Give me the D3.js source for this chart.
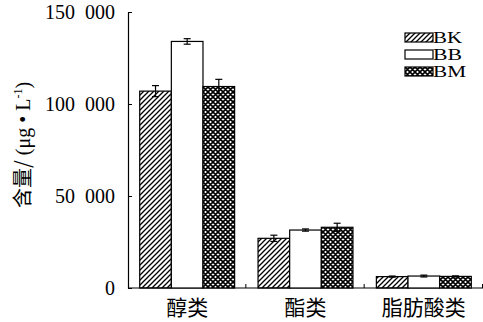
<!DOCTYPE html>
<html>
<head>
<meta charset="utf-8">
<script src="https://cdn.jsdelivr.net/npm/d3@7"></script>
<style>
  body { margin: 0; background: #fff; }
  svg { display: block; }
  .num { font-family: "Liberation Serif", "Times New Roman", serif; }
  .cjk { font-family: "Noto Sans CJK SC", sans-serif; }
</style>
</head>
<body>
<div id="chart"></div>
<script>
// data
var categories = ["醇类", "酯类", "脂肪酸类"];
var seriesNames = ["BK", "BB", "BM"];
var bkValues = [107000, 27000, 6200];
var bbValues = [134000, 31500, 6500];
var bmValues = [109500, 33000, 6300];
var bkErrors = [3000, 1700, 300];
var bbErrors = [1500, 600, 500];
var bmErrors = [3900, 2200, 300];
var yTicks = [0, 50000, 100000, 150000];

var svgWidth = 483, svgHeight = 322;
var margin = { top: 12, right: 0, bottom: 34, left: 128 };
var width = svgWidth - margin.left - margin.right;
var height = svgHeight - margin.top - margin.bottom;

var svg = d3.select("#chart").append("svg")
  .attr("width", svgWidth)
  .attr("height", svgHeight);

// fill patterns
var defs = svg.append("defs");
defs.append("pattern")
  .attr("id", "hatch")
  .attr("patternUnits", "userSpaceOnUse")
  .attr("width", 5).attr("height", 5)
  .append("path")
  .attr("d", "M-1,1 l2,-2 M0,5 l5,-5 M4,6 l2,-2")
  .attr("stroke", "#000").attr("stroke-width", 1.3);

var cross = defs.append("pattern")
  .attr("id", "cross")
  .attr("patternUnits", "userSpaceOnUse")
  .attr("width", 5).attr("height", 5);
cross.append("rect").attr("width", 5).attr("height", 5).attr("fill", "#fff");
cross.append("path")
  .attr("d", "M-1,1 l2,-2 M0,5 l5,-5 M4,6 l2,-2 M-1,4 l2,2 M0,0 l5,5 M4,-1 l2,2")
  .attr("stroke", "#000").attr("stroke-width", 1.6);

var fills = { BK: "url(#hatch)", BB: "#fff", BM: "url(#cross)" };
var valuesBy = { BK: bkValues, BB: bbValues, BM: bmValues };
var errorsBy = { BK: bkErrors, BB: bbErrors, BM: bmErrors };

var chartGroup = svg.append("g")
  .attr("transform", `translate(${margin.left}, ${margin.top})`);

var x0 = d3.scaleBand().domain(categories).range([0, width]);
var x1 = d3.scaleBand().domain(seriesNames)
  .range([0, x0.bandwidth()])
  .paddingOuter(0.37);
var y = d3.scaleLinear().domain([0, 150000]).range([height, 0]);

var fmt = d3.formatLocale({ decimal: ".", thousands: "\u2002", grouping: [3] }).format(",d");

// y axis
var yAxis = chartGroup.append("g")
  .call(d3.axisLeft(y).tickValues(yTicks).tickFormat(fmt).tickSizeInner(-4).tickSizeOuter(0).tickPadding(13));
yAxis.select(".domain").attr("stroke-width", 1.2);
yAxis.selectAll("text").attr("class", "num").attr("font-size", 20).attr("fill", "#000");

// x axis line with ticks at category borders
chartGroup.append("line")
  .attr("x1", 0).attr("x2", width)
  .attr("y1", height).attr("y2", height)
  .attr("stroke", "#000").attr("stroke-width", 1.2);
var borders = categories.map(c => x0(c) + x0.bandwidth());
chartGroup.selectAll(".xtick")
  .data(borders)
  .enter().append("line")
  .attr("x1", d => d - 0.5).attr("x2", d => d - 0.5)
  .attr("y1", height).attr("y2", height - 4)
  .attr("stroke", "#000");

chartGroup.selectAll(".xlabel")
  .data(categories)
  .enter().append("text")
  .attr("class", "cjk")
  .attr("x", d => x0(d) + x0.bandwidth() / 2)
  .attr("y", height + 27)
  .attr("text-anchor", "middle")
  .attr("font-size", 21)
  .attr("fill", "#000")
  .text(d => d);

// bars
var rows = [];
categories.forEach(function(c, i) {
  seriesNames.forEach(function(s) {
    rows.push({ cat: c, s: s, v: valuesBy[s][i], e: errorsBy[s][i] });
  });
});

chartGroup.selectAll(".bar")
  .data(rows)
  .enter().append("rect")
  .attr("x", d => x0(d.cat) + x1(d.s))
  .attr("y", d => y(d.v))
  .attr("width", x1.bandwidth())
  .attr("height", d => height - y(d.v))
  .attr("fill", d => fills[d.s])
  .attr("stroke", "#000")
  .attr("stroke-width", 1.2);

// error bars
var err = chartGroup.selectAll(".err")
  .data(rows)
  .enter().append("g")
  .attr("transform", d => `translate(${x0(d.cat) + x1(d.s) + x1.bandwidth() / 2}, 0)`);
err.append("line")
  .attr("y1", d => y(d.v - d.e)).attr("y2", d => y(d.v + d.e))
  .attr("stroke", "#000").attr("stroke-width", 1.2);
err.append("line")
  .attr("x1", -3.5).attr("x2", 3.5)
  .attr("y1", d => y(d.v + d.e)).attr("y2", d => y(d.v + d.e))
  .attr("stroke", "#000").attr("stroke-width", 1.2);
err.append("line")
  .attr("x1", -3.5).attr("x2", 3.5)
  .attr("y1", d => y(d.v - d.e)).attr("y2", d => y(d.v - d.e))
  .attr("stroke", "#000").attr("stroke-width", 1.2);

// y label
var ylab = svg.append("text")
  .attr("transform", "translate(30, 145) rotate(-90)")
  .attr("text-anchor", "middle")
  .attr("fill", "#000")
  .attr("font-size", 20);
ylab.append("tspan").attr("class", "cjk").text("含量/");
ylab.append("tspan").attr("class", "num").text(" (μg • L");
ylab.append("tspan").attr("class", "num").attr("font-size", 12).attr("dy", -8).text("-1");
ylab.append("tspan").attr("class", "num").attr("dy", 8).text(")");

// legend
var legend = svg.append("g").attr("transform", "translate(405, 33)");
var item = legend.selectAll(".item")
  .data(seriesNames)
  .enter().append("g")
  .attr("transform", (d, i) => `translate(0, ${i * 17})`);
item.append("rect")
  .attr("width", 28).attr("height", 9)
  .attr("fill", d => fills[d])
  .attr("stroke", "#000").attr("stroke-width", 1.2);
item.append("text")
  .attr("class", "num")
  .attr("x", 28)
  .attr("y", 10)
  .attr("font-size", 16)
  .attr("textLength", d => d === "BM" ? 33 : 29)
  .attr("lengthAdjust", "spacingAndGlyphs")
  .attr("fill", "#000")
  .text(d => d);
</script>
</body>
</html>
